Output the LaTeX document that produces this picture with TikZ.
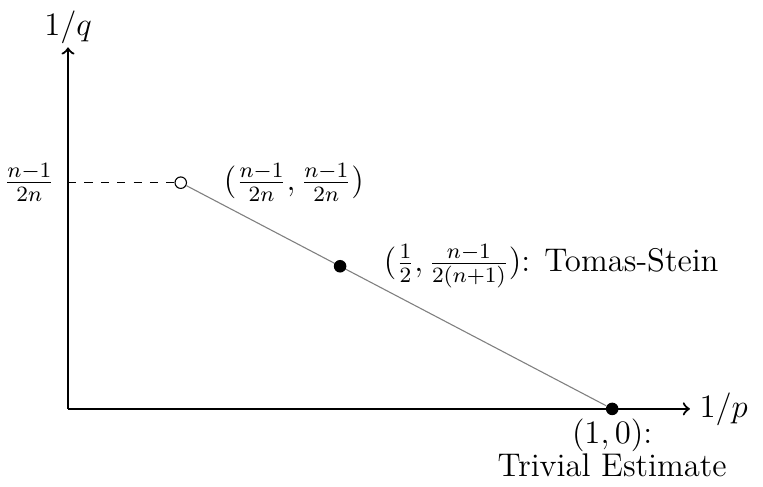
\documentclass[tikz,border=0pt]{standalone}
\usepackage{amsmath}
\usetikzlibrary{positioning}
\begin{document}
\begin{tikzpicture}[font=\large,
 axis/.style={->, thick},
 dot/.style={circle, fill, inner sep=0pt, minimum size=4.6pt},
 hollow/.style={circle, draw, inner sep=0pt, minimum size=4.2pt}]
\useasboundingbox (-0.875,-1.0) rectangle (8.94,5.26);
% axes
\coordinate (O) at (0,0);
\coordinate (xend) at (8,0);
\coordinate (yend) at (0,4.65);
\draw[axis] (O) -- (xend);
\draw[axis] (O) -- (yend);
\node[right=0pt of xend] (xlabel) {$1/p$};
\node[above=-2pt of yend] (ylabel) {$1/q$};
% points
\coordinate (ytick) at (0,2.91);
\node[hollow] (open) at (1.45,2.91) {};
\node[dot] (triv) at (7,0) {};
\draw[gray] (open) -- (triv);
\node[dot] (ts) at (3.5,1.835) {};
\draw[dashed] (ytick) -- (open);
% labels
\node[left=0.05cm of ytick] (yticklabel) {$\frac{n-1}{2n}$};
\node[right=0.35cm of open] (openlabel) {$(\frac{n-1}{2n}, \frac{n-1}{2n})$};
\node[right=0.35cm of ts] (tslabel) {$(\frac{1}{2}, \frac{n-1}{2(n+1)})$: Tomas-Stein};
\node[below=0pt of triv, align=center, inner sep=1pt] (trivlabel) {$(1,0)$:\\[-2pt]Trivial Estimate};
\end{tikzpicture}
\end{document}
